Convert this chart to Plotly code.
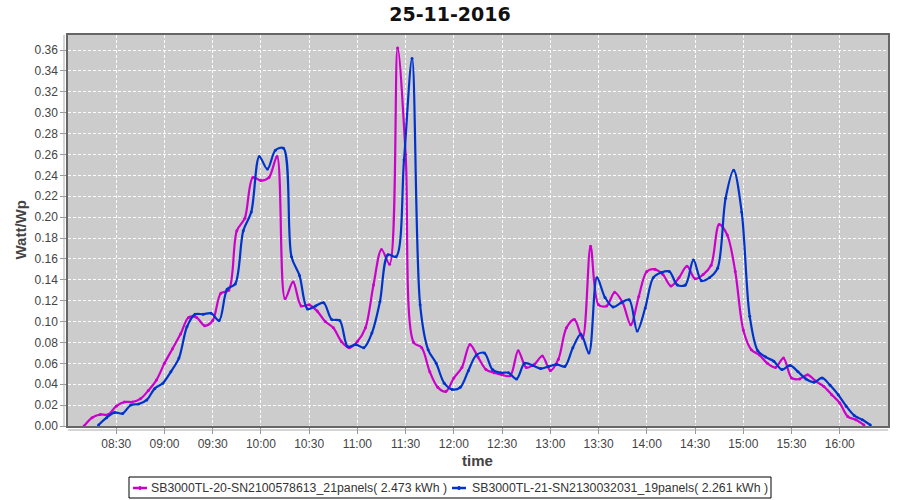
import plotly.graph_objects as go
import pandas as pd

title_text = "25-11-2016"
x_title = "time"
y_title = "Watt/Wp"
series_names = [
    "SB3000TL-20-SN2100578613_21panels( 2.473 kWh )",
    "SB3000TL-21-SN2130032031_19panels( 2.261 kWh )",
]
series_colors = ["#cc00cc", "#0033cc"]

# sample start times (5-minute logging interval)
start_a = "2016-11-25 08:10"
start_b = "2016-11-25 08:19"

values_a = [
    0.000, 0.008, 0.011, 0.011, 0.019, 0.023, 0.023, 0.026, 0.034, 0.044,
    0.060, 0.074, 0.088, 0.104, 0.104, 0.096, 0.101, 0.127, 0.130, 0.187,
    0.199, 0.238, 0.235, 0.238, 0.258, 0.122, 0.138, 0.115, 0.116, 0.110,
    0.100, 0.094, 0.081, 0.075, 0.081, 0.094, 0.135, 0.169, 0.155, 0.362,
    0.260, 0.080, 0.075, 0.052, 0.037, 0.033, 0.046, 0.056, 0.078, 0.066,
    0.054, 0.051, 0.049, 0.048, 0.072, 0.056, 0.059, 0.067, 0.053, 0.064,
    0.094, 0.102, 0.084, 0.172, 0.116, 0.115, 0.128, 0.118, 0.097, 0.124,
    0.148, 0.150, 0.145, 0.134, 0.142, 0.153, 0.141, 0.145, 0.154, 0.193,
    0.183, 0.148, 0.092, 0.073, 0.068, 0.060, 0.056, 0.065, 0.046, 0.045,
    0.049, 0.043, 0.038, 0.030, 0.022, 0.009, 0.006, 0.001,
]

values_b = [
    0.001, 0.008, 0.013, 0.012, 0.020, 0.021, 0.025, 0.036, 0.041, 0.052,
    0.065, 0.095, 0.107, 0.107, 0.108, 0.101, 0.131, 0.136, 0.187, 0.205,
    0.258, 0.246, 0.264, 0.266, 0.162, 0.144, 0.112, 0.115, 0.118, 0.102,
    0.101, 0.076, 0.078, 0.075, 0.089, 0.119, 0.164, 0.162, 0.255, 0.352,
    0.116, 0.073, 0.060, 0.041, 0.035, 0.037, 0.053, 0.068, 0.070, 0.054,
    0.051, 0.051, 0.045, 0.060, 0.058, 0.055, 0.057, 0.059, 0.057, 0.075,
    0.088, 0.070, 0.142, 0.123, 0.114, 0.118, 0.121, 0.091, 0.113, 0.142,
    0.147, 0.148, 0.135, 0.135, 0.159, 0.139, 0.142, 0.151, 0.218, 0.245,
    0.205, 0.105, 0.072, 0.066, 0.062, 0.054, 0.058, 0.052, 0.045, 0.042,
    0.046, 0.039, 0.030, 0.019, 0.010, 0.006, 0.001,
]

x_tick_labels = ["08:30", "09:00", "09:30", "10:00", "10:30", "11:00", "11:30", "12:00",
                 "12:30", "13:00", "13:30", "14:00", "14:30", "15:00", "15:30", "16:00"]
y_tick_values = [0.00, 0.02, 0.04, 0.06, 0.08, 0.10, 0.12, 0.14, 0.16, 0.18,
                 0.20, 0.22, 0.24, 0.26, 0.28, 0.30, 0.32, 0.34, 0.36]
x_range = ["2016-11-25 08:00", "2016-11-25 16:30"]
y_range = [0.0, 0.3744]

W, H = 900, 500
ML, MR, MT, MB = 68, 12, 35, 74
PW, PH = W - ML - MR, H - MT - MB


def px_x(p):
    return (p - ML) / PW


def px_y(p):
    return (H - MB - p) / PH


times_a = pd.date_range(start_a, periods=len(values_a), freq="5min")
times_b = pd.date_range(start_b, periods=len(values_b), freq="5min")
tick_vals = [pd.Timestamp("2016-11-25 " + t) for t in x_tick_labels]

fig = go.Figure()
for t, v, name, col in [(times_a, values_a, series_names[0], series_colors[0]),
                        (times_b, values_b, series_names[1], series_colors[1])]:
    fig.add_trace(go.Scatter(
        x=t, y=v, name=name, mode="lines+markers", showlegend=False,
        line=dict(color=col, width=2.2, shape="spline", smoothing=0.9),
        marker=dict(color=col, size=3),
    ))

axis_font = dict(family="Liberation Sans, Arial, sans-serif", size=12, color="#444444")
title_font = dict(family="Liberation Sans, Arial, sans-serif", size=15, color="#444444")
legend_font = dict(family="Liberation Sans, Arial, sans-serif", size=12.3, color="#333333")

fig.update_layout(
    width=W, height=H,
    paper_bgcolor="white", plot_bgcolor="#cccccc",
    margin=dict(l=ML, r=MR, t=MT, b=MB, autoexpand=False),
    title=dict(text="<b>" + title_text + "</b>", x=0.5, xanchor="center", y=0.972, yanchor="middle",
               font=dict(family="DejaVu Sans, sans-serif", size=19, color="#111111")),
    showlegend=False,
    xaxis=dict(
        type="date", range=x_range, tickvals=tick_vals, ticktext=x_tick_labels,
        showgrid=True, gridcolor="white", gridwidth=1, griddash="3px,2px",
        showline=True, linecolor="#666666", linewidth=1.5, mirror=True,
        ticks="outside", ticklen=6, tickcolor="#999999",
        tickfont=axis_font, zeroline=False, automargin=False,
    ),
    yaxis=dict(
        range=y_range, tickvals=y_tick_values, tickformat=".2f",
        showgrid=True, gridcolor="white", gridwidth=1, griddash="3px,2px",
        showline=True, linecolor="#666666", linewidth=1.5, mirror=True,
        ticks="outside", ticklen=6, tickcolor="#999999",
        tickfont=axis_font, zeroline=False, automargin=False,
    ),
)

# axis titles
fig.add_annotation(text="<b>" + x_title + "</b>", xref="paper", yref="paper",
                   x=px_x(477), y=px_y(460), showarrow=False, font=title_font,
                   xanchor="center", yanchor="middle")
fig.add_annotation(text="<b>" + y_title + "</b>", xref="paper", yref="paper",
                   x=px_x(20), y=0.5, showarrow=False, font=title_font, textangle=-90,
                   xanchor="center", yanchor="middle")

# offset axis lines (JFreeChart style)
fig.add_shape(type="line", xref="paper", yref="paper", x0=px_x(64), x1=px_x(64), y0=0, y1=1,
              line=dict(color="#aaaaaa", width=1))
fig.add_shape(type="line", xref="paper", yref="paper", x0=0, x1=1, y0=px_y(430), y1=px_y(430),
              line=dict(color="#aaaaaa", width=1))

# legend box
fig.add_shape(type="rect", xref="paper", yref="paper",
              x0=px_x(129), x1=px_x(771), y0=px_y(498), y1=px_y(477),
              line=dict(color="black", width=1), fillcolor="white")
for (s0, t0), name, col in zip([(133, 149), (452, 470)], series_names, series_colors):
    fig.add_shape(type="line", xref="paper", yref="paper",
                  x0=px_x(s0), x1=px_x(s0 + 14), y0=px_y(488), y1=px_y(488),
                  line=dict(color=col, width=2.5))
    fig.add_shape(type="circle", xref="paper", yref="paper",
                  x0=px_x(s0 + 5.5), x1=px_x(s0 + 8.5), y0=px_y(489.5), y1=px_y(486.5),
                  line=dict(color=col, width=1), fillcolor=col)
    fig.add_annotation(text=name, xref="paper", yref="paper", x=px_x(t0), y=px_y(488),
                       showarrow=False, xanchor="left", yanchor="middle", font=legend_font)

fig.write_html("out.html", config={"displayModeBar": False},
               post_script="document.body.style.margin='0';")
